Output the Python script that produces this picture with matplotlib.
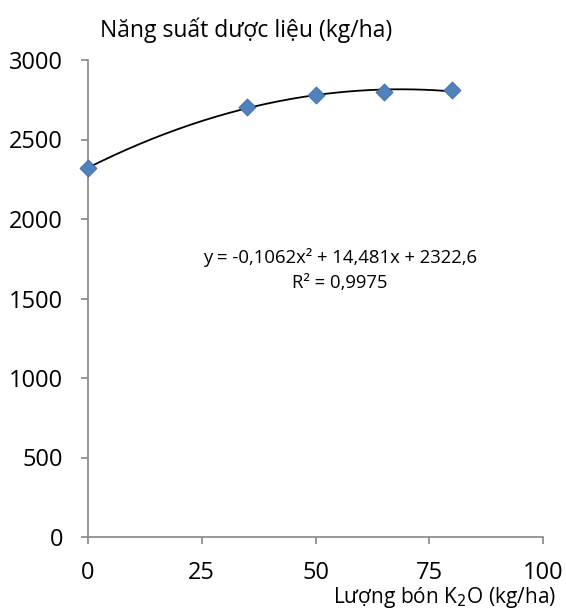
import numpy as np
import matplotlib
matplotlib.use("Agg")
import matplotlib.pyplot as plt

plt.rcParams['font.family'] = ['Open Sans', 'DejaVu Sans']

# data
k2o = [0, 35, 50, 65, 80]
yield_kg = [2320, 2705, 2780, 2800, 2810]
x_ticks = [0, 25, 50, 75, 100]
y_ticks = [0, 500, 1000, 1500, 2000, 2500, 3000]

fig = plt.figure(figsize=(5.66, 6.09), dpi=100)
ax = fig.add_axes([88/566, 1-537/609, (543-88)/566, (537-60)/609])

# second order trendline, as Excel does it
coef = np.polyfit(k2o, yield_kg, 2)
xs = np.linspace(min(k2o), max(k2o), 200)
ax.plot(xs, np.polyval(coef, xs), color='black', lw=1.3, zorder=2)
ax.scatter(k2o, yield_kg, marker='D', s=75, color='#4F81BD',
           edgecolor='#3A6BA5', linewidth=0.6, zorder=3, clip_on=False)

ax.set_xlim(0, 100)
ax.set_ylim(0, 3000)
ax.set_xticks(x_ticks)
ax.set_yticks(y_ticks)
for s in ['top', 'right']:
    ax.spines[s].set_visible(False)
for s in ['left', 'bottom']:
    ax.spines[s].set_color('#868686')
    ax.spines[s].set_linewidth(1.2)
ax.tick_params(axis='both', direction='out', length=5, width=1.2,
               color='#868686', labelsize=17, labelcolor='black')
ax.tick_params(axis='x', pad=12.5)
ax.tick_params(axis='y', pad=13)

fig.text(246/566, 1-30/609, 'Năng suất dược liệu (kg/ha)', ha='center',
         va='center', fontsize=16.5)
fig.text(556/566, 1-597/609, 'Lượng bón K$_2$O (kg/ha)', ha='right',
         va='center', fontsize=15)
fig.text(340/566, 1-258/609, 'y = -0,1062x² + 14,481x + 2322,6', ha='center',
         va='center', fontsize=13.3)
fig.text(340/566, 1-283/609, 'R² = 0,9975', ha='center', va='center',
         fontsize=13.3)

fig.savefig('out.png', dpi=100)
